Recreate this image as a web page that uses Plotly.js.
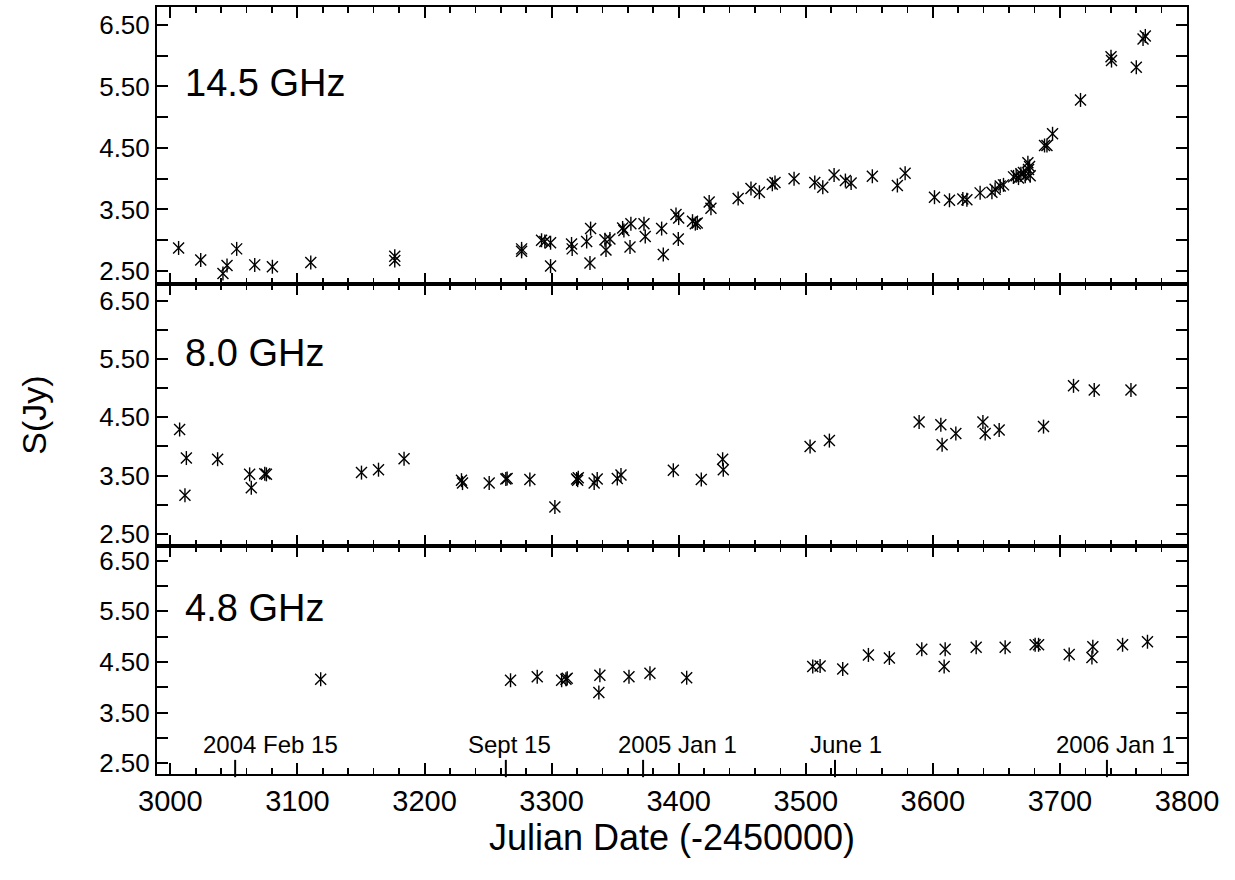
<!DOCTYPE html>
<html>
<head>
<meta charset="utf-8">
<script src="https://cdn.plot.ly/plotly-3.0.1.min.js"></script>
<style>body{margin:0;background:#fff}#plot{width:1235px;height:880px}#note{position:absolute;left:170px;top:290px;font:10px monospace;color:transparent;width:10px;height:10px;overflow:hidden}</style>
</head>
<body>
<div id="plot"></div>
<div id="note"></div>
<script>
// 14.5 GHz
const jd145 = [3006.5,3023.9,3041.4,3044.6,3052.2,3066.4,3080.3,3110.5,3176.6,3176.6,3276.4,3276.4,3292.1,3294.7,3299.2,3299.2,
  3315.7,3316.2,3327.6,3330.7,3330.2,3342,3342.8,3345.9,3355.9,3356.9,3361.7,3362.4,3372.7,3373.7,3386.6,3387.9,
  3397.9,3400,3399.7,3410.9,3413.1,3414.6,3424.0,3425.4,3446.8,3456.9,3463.5,3473.7,3475.8,3490.8,3507.1,3513.4,
  3522.3,3531.2,3535.7,3552.4,3572.1,3578.2,3601.3,3613.1,3623.6,3626.8,3637.2,3646.5,3649,3653,3655.6,
  3663.5,3665.6,3667.4,3669.3,3671.3,3672.7,3674.8,3676.1,3676.6,3675.3,3687.9,3689.8,3694.2,3716.2,
  3740.2,3740.6,3760.1,3765.4,3767.2];
const s145 = [2.875,2.68,2.46,2.59,2.86,2.60,2.57,2.64,2.74,2.67,2.86,2.82,3.00,2.98,2.96,2.58,
  2.94,2.86,2.98,3.19,2.63,3.01,2.84,3.02,3.20,3.16,2.89,3.27,3.27,3.06,3.19,2.77,
  3.42,3.36,3.02,3.31,3.27,3.28,3.62,3.52,3.68,3.84,3.78,3.91,3.94,4.00,3.94,3.86,
  4.06,3.97,3.93,4.04,3.89,4.09,3.70,3.65,3.67,3.66,3.77,3.78,3.83,3.88,3.90,
  4.03,4.05,4.01,4.08,4.10,4.04,4.26,4.20,4.05,4.15,4.54,4.54,4.73,5.28,
  5.98,5.92,5.81,6.27,6.32];
// 8.0 GHz
const jd80 = [3007.3,3012.6,3011.5,3037.2,3062.4,3063.7,3074.3,3075.6,3150.4,3163.8,3183.9,3229.1,3229.9,3250.9,3264,3265,
  3282.9,3302.6,3319.7,3320.5,3321,3333.5,3335.9,3351.7,3354.6,3395.8,3417.8,3434.6,3435.1,3503.4,3518.6,
  3589.2,3606.3,3607.3,3618.1,3639.4,3641.2,3652.2,3687.1,3710.7,3727,3755.9];
const s80 = [4.29,3.80,3.16,3.78,3.52,3.29,3.53,3.52,3.55,3.60,3.79,3.42,3.37,3.37,3.44,3.45,
  3.43,2.96,3.44,3.42,3.46,3.37,3.44,3.45,3.51,3.59,3.43,3.78,3.60,4.00,4.10,
  4.42,4.37,4.03,4.22,4.42,4.22,4.28,4.34,5.04,4.97,4.97];
// 4.8 GHz
const jd48 = [3118.3,3267.7,3288.7,3307.9,3311.3,3312.3,3338,3337.2,3360.9,3377.4,3406.3,3505.5,3511.3,3529.1,3549.3,
  3565.8,3591.3,3609.7,3608.9,3634.1,3656.9,3680.5,3683.2,3707.3,3725.9,3725.2,3749.3,3768.9];
const s48 = [4.16,4.14,4.21,4.14,4.16,4.18,4.24,3.90,4.21,4.28,4.19,4.41,4.42,4.36,4.64,
  4.58,4.75,4.75,4.41,4.79,4.79,4.84,4.84,4.65,4.80,4.59,4.84,4.90];

const panelLabels = ['14.5 GHz','8.0 GHz','4.8 GHz'];
const yTickVals = [2.5,3.0,3.5,4.0,4.5,5.0,5.5,6.0,6.5];
const yTickText = ['2.50','','3.50','','4.50','','5.50','','6.50'];
const dateTicks = [3051,3264,3372,3523,3737];
const dateLabels = ['2004 Feb 15','Sept 15','2005 Jan 1','June 1','2006 Jan 1'];
const dateLabelX = [3079,3267,3399,3532,3744];

const FONT = 'Liberation Sans, Arial, sans-serif';
const XR = [2989.5, 3800];
const YR = [2.29, 6.79];

function star(x, y, xa, ya) {
  const base = {x: x, y: y, xaxis: xa, yaxis: ya, mode: 'markers', type: 'scatter', hoverinfo: 'skip', showlegend: false};
  return [
    Object.assign({}, base, {marker: {symbol: 'x-thin-open', size: 11, color: '#000', line: {color: '#000', width: 1.4}}}),
    Object.assign({}, base, {marker: {symbol: 'line-ns-open', size: 10, color: '#000', line: {color: '#000', width: 1.4}}})
  ];
}

const data = [].concat(
  star(jd145, s145, 'x3', 'y'),
  star(jd80, s80, 'x2', 'y2'),
  star(jd48, s48, 'x', 'y3')
);

function xax(extra) {
  return Object.assign({
    range: XR, showgrid: false, zeroline: false, showline: true, linewidth: 2, linecolor: '#000',
    mirror: 'allticks', ticks: 'inside', ticklen: 11, tickwidth: 2, tickcolor: '#000',
    dtick: 100, tick0: 3000, showticklabels: false,
    minor: {ticks: 'inside', dtick: 20, tick0: 3000, ticklen: 6, tickwidth: 1.6, tickcolor: '#000', showgrid: false}
  }, extra);
}
function yax(dom, anchor, extra) {
  return Object.assign({domain: dom, anchor: anchor, range: YR, showgrid: false, zeroline: false, showline: true,
    linewidth: 2, linecolor: '#000', mirror: 'allticks', ticks: 'inside', ticklen: 11, tickwidth: 2,
    tickcolor: '#000', tickmode: 'array', tickvals: yTickVals, ticktext: yTickText,
    tickfont: {family: FONT, size: 26, color: '#000'}}, extra || {});
}

const labelY = [5.56, 5.60, 5.57];
const labelRefs = ['y', 'y2', 'y3'];
const labelXRefs = ['x3', 'x2', 'x'];
const annotations = panelLabels.map((t, i) => ({
  text: t, x: 3010, y: labelY[i], xref: labelXRefs[i], yref: labelRefs[i],
  xanchor: 'left', yanchor: 'middle', showarrow: false, font: {family: FONT, size: 38, color: '#000'}
})).concat(dateLabels.map((t, i) => ({
  text: t, x: dateLabelX[i], y: 2.88, xref: 'x', yref: 'y3', xanchor: 'center', yanchor: 'middle',
  showarrow: false, font: {family: FONT, size: 24, color: '#000'}
})));

// date tick marks crossing the bottom axis line
const shapes = dateTicks.map(d => ({
  type: 'line', xref: 'x', yref: 'y3 domain', x0: d, x1: d, y0: -0.014, y1: 0.062,
  line: {color: '#000', width: 2}
}));

const layout = {
  width: 1235, height: 880, margin: {l: 157, r: 48, t: 7, b: 106}, showlegend: false,
  xaxis: xax({anchor: 'y3', showticklabels: true, tickfont: {family: FONT, size: 29, color: '#000'},
    title: {text: 'Julian Date (-2450000)', font: {family: FONT, size: 36, color: '#000'}, standoff: 6}}),
  xaxis2: xax({anchor: 'y2'}),
  xaxis3: xax({anchor: 'y'}),
  yaxis: yax([0.6389, 1], 'x3'),
  yaxis2: yax([0.2973, 0.6389], 'x2', {title: {text: 'S(Jy)', font: {family: FONT, size: 34, color: '#000'}, standoff: 42}}),
  yaxis3: yax([0, 0.2973], 'x'),
  annotations: annotations,
  shapes: shapes
};

const gd = document.getElementById('plot');
const note = document.getElementById('note');
Plotly.newPlot(gd, data, layout, {staticPlot: true, displayModeBar: false}).then(() => {
  const fl = gd._fullLayout;
  note.textContent = 'ok ' + document.querySelectorAll('path[class*=tick]').length + ' ' + Object.keys(fl._plots).length;
  return Plotly.relayout(gd, {'xaxis.ticklen': 11, 'xaxis2.ticklen': 11, 'xaxis3.ticklen': 11,
    'yaxis.ticklen': 11, 'yaxis2.ticklen': 11, 'yaxis3.ticklen': 11});
}).then(() => {
  note.textContent += ' r ' + document.querySelectorAll('path[class*=tick]').length;
}).catch(e => { note.textContent = 'e'; });
</script>
</body>
</html>
